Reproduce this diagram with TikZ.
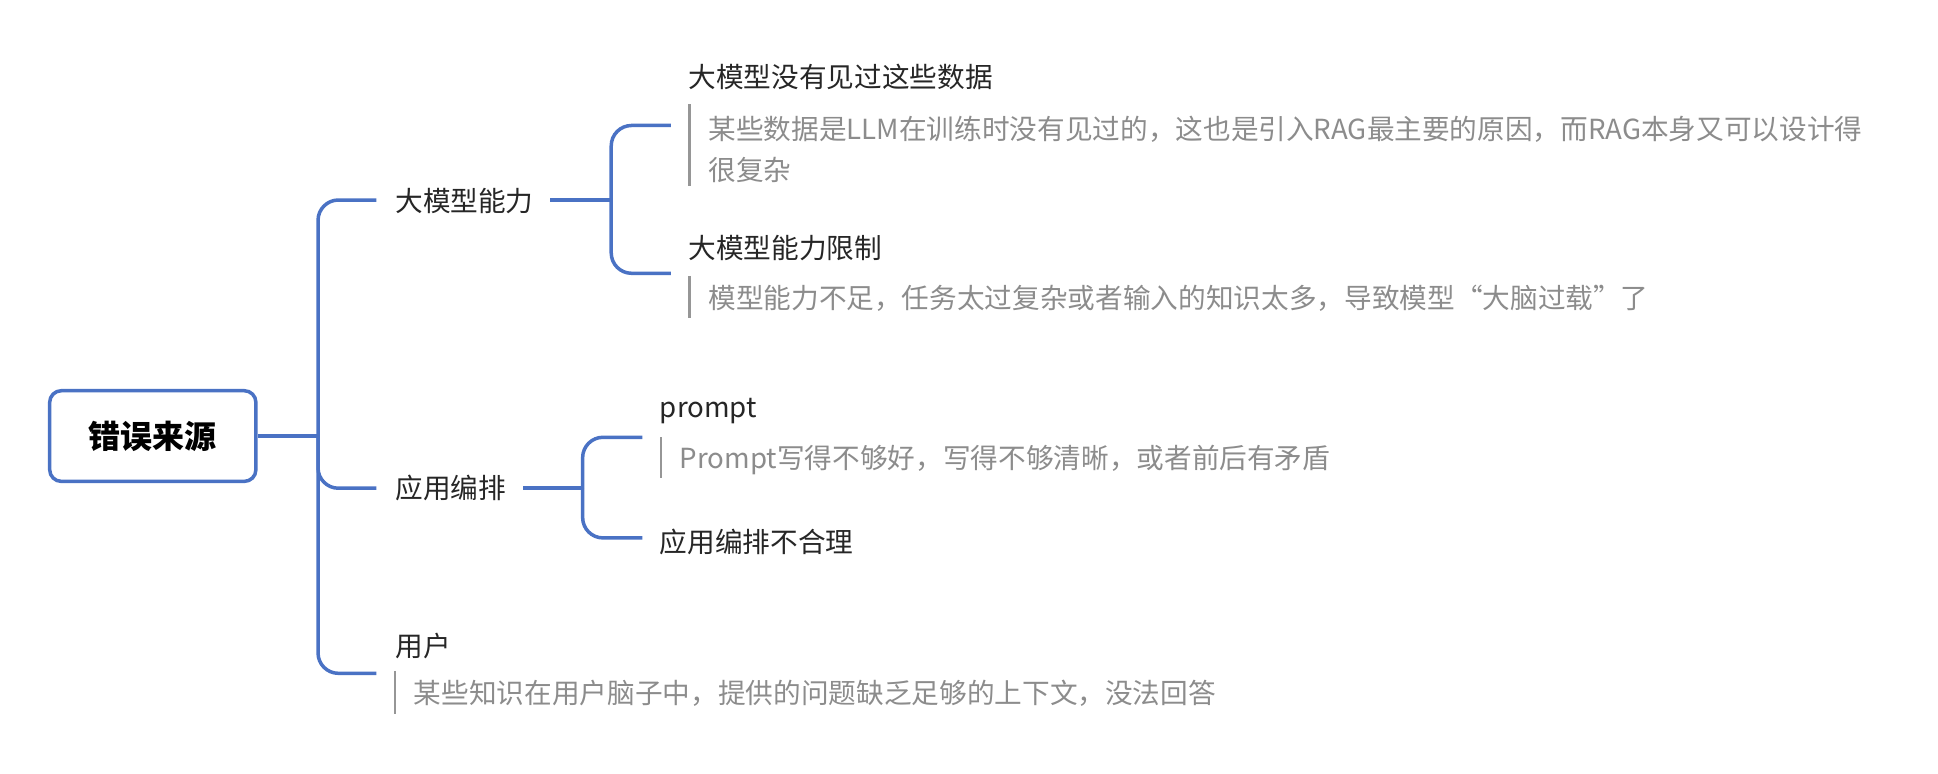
\documentclass[tikz,border=0pt]{standalone}
\usepackage{fontspec}
\setmainfont{Noto Sans CJK SC}
\definecolor{linkblue}{RGB}{74,114,196}
\definecolor{notegray}{RGB}{140,140,140}
\definecolor{bargray}{RGB}{150,150,150}
\tikzset{
  link/.style={draw=linkblue, line width=2.4pt, rounded corners=14pt},
  topic/.style={anchor=west, inner sep=0pt, font=\fontsize{19}{22}\selectfont, text=black!85},
  note/.style={anchor=west, inner sep=0pt, align=left, font=\fontsize{19}{28}\selectfont, text=notegray},
  notebar/.style={draw=bargray, line width=1.6pt},
}
\begin{document}
\begin{tikzpicture}[x=0.03cm, y=-0.03cm]
  \useasboundingbox (0,0) rectangle (1560,623);

  \node[draw=linkblue, line width=2.4pt, rounded corners=8pt, minimum width=166*0.03cm, minimum height=73*0.03cm,
        font=\fontsize{22}{26}\selectfont\bfseries] (root) at (123,351) {错误来源};

  % first level
  \node[topic] (model) at (318,162) {大模型能力};
  \node[topic] (app) at (318,393) {应用编排};
  \node[topic] (user) at (318,520) {用户};

  \coordinate (trunk) at (256,351);
  \draw[link] (root.east) -- (trunk);
  \draw[link] (trunk) |- (303,161);
  \draw[link] (trunk) |- (303,393);
  \draw[link] (trunk) |- (303,542);

  % 大模型能力
  \node[topic] (unseen) at (554,62) {大模型没有见过这些数据};
  \node[note] (unseennote) at (570,120) {某些数据是LLM在训练时没有见过的，这也是引入RAG最主要的原因，而RAG本身又可以设计得\\很复杂};
  \node[topic] (limit) at (554,200) {大模型能力限制};
  \node[note] (limitnote) at (570,240) {模型能力不足，任务太过复杂或者输入的知识太多，导致模型“大脑过载”了};
  \coordinate (modelfork) at (492,161);
  \draw[link] (443,161) -- (modelfork);
  \draw[link] (modelfork) |- (540,101);
  \draw[link] (modelfork) |- (540,220);
  \draw[notebar] (555,84) -- (555,150);
  \draw[notebar] (555,222) -- (555,256);

  % 应用编排
  \node[topic] (prompt) at (531,331) {prompt};
  \node[note] (promptnote) at (547,370) {Prompt写得不够好，写得不够清晰，或者前后有矛盾};
  \node[topic] (badapp) at (531,436) {应用编排不合理};
  \coordinate (appfork) at (469,393);
  \draw[link] (421,393) -- (appfork);
  \draw[link] (appfork) |- (517,352);
  \draw[link] (appfork) |- (517,433);
  \draw[notebar] (532,352) -- (532,385);

  % 用户
  \node[note] (usernote) at (333,558) {某些知识在用户脑子中，提供的问题缺乏足够的上下文，没法回答};
  \draw[notebar] (318,540) -- (318,575);
\end{tikzpicture}
\end{document}
